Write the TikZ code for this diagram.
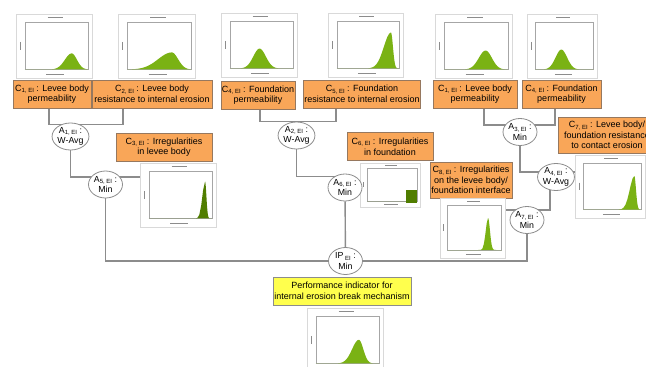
\documentclass[tikz,border=0pt]{standalone}
\usepackage{fontspec}
\setmainfont{Liberation Sans}
\usetikzlibrary{shapes.geometric, backgrounds}

\definecolor{critorange}{RGB}{249,166,88}
\definecolor{critborder}{RGB}{150,120,95}
\definecolor{indyellow}{RGB}{255,255,77}
\definecolor{linegray}{RGB}{140,140,140}
\definecolor{plotgreen}{RGB}{122,178,20}
\definecolor{darkgreen}{RGB}{80,125,0}

\newcommand{\sub}[1]{\raisebox{-0.3ex}{\fontsize{6}{6}\selectfont #1}}

% distribution thumbnail: name, centre, width, height, colour, mean, left spread, right spread, peak
\newcommand{\thumb}[9]{%
  \node[thumbbox, minimum width=#3, minimum height=#4] (#1) at #2 {};
  \begin{scope}[shift={(#1.north west)}, x=#3pt, y=-#4pt]
    \draw[axisline] (0.12,0.13) rectangle (0.95,0.87);
    \draw[labelline] (0.42,0.06) -- (0.62,0.06);
    \draw[labelline] (0.40,0.94) -- (0.64,0.94);
    \draw[labelline] (0.06,0.44) -- (0.06,0.56);
    \fill[#5] (0.12,0.87)
      -- plot[domain=0:#6, samples=30] ({0.12+0.83*\x}, {0.87-0.74*#9*exp(-((\x-#6)/#7)^2)})
      -- plot[domain=#6:1, samples=30] ({0.12+0.83*\x}, {0.87-0.74*#9*exp(-((\x-#6)/#8)^2)})
      -- (0.95,0.87) -- cycle;
  \end{scope}}

\tikzset{
  cbox/.style={draw=critborder, fill=critorange, align=center, inner sep=1pt,
    minimum height=28, font=\fontsize{9}{10.6}\selectfont},
  ipbox/.style={cbox, draw=linegray, fill=indyellow},
  agg/.style={ellipse, draw=linegray, fill=white, line width=0.8pt, align=center,
    inner sep=0pt, minimum width=34, minimum height=27, font=\fontsize{8.8}{10.5}\selectfont},
  thumbbox/.style={draw=black!15, fill=white, inner sep=0pt},
  axisline/.style={draw=black!35, line width=0.3pt},
  labelline/.style={draw=black!45, line width=0.6pt},
  link/.style={draw=linegray, line width=1.4pt},
}

\begin{document}
\begin{tikzpicture}[x=1pt, y=-1pt]
  \useasboundingbox (0,0) rectangle (646,367);

  % criteria plots, top row
  \thumb{T1}{(54,46)}{76}{64}{plotgreen}{0.74}{0.15}{0.12}{0.34}
  \thumb{T2}{(156.5,46)}{77}{64}{plotgreen}{0.70}{0.30}{0.14}{0.36}
  \thumb{T3}{(259,45)}{76}{64}{plotgreen}{0.47}{0.14}{0.14}{0.42}
  \thumb{T4}{(365.5,45)}{75}{64}{plotgreen}{0.87}{0.16}{0.045}{0.76}
  \thumb{T5}{(473.5,46)}{77}{64}{plotgreen}{0.65}{0.15}{0.14}{0.40}
  \thumb{T6}{(562,46)}{70}{64}{plotgreen}{0.45}{0.14}{0.14}{0.42}

  % criteria
  \node[cbox, minimum width=78] (C1a) at (52,94) {C\sub{1, EI} : Levee body\\permeability};
  \node[cbox, minimum width=120] (C2) at (152,94) {C\sub{2, EI} : Levee body\\resistance to internal erosion};
  \node[cbox, minimum width=74] (C4a) at (258,95) {C\sub{4, EI} : Foundation\\permeability};
  \node[cbox, minimum width=116] (C5) at (362,94) {C\sub{5, EI} : Foundation\\resistance to internal erosion};
  \node[cbox, minimum width=84] (C1b) at (475,94) {C\sub{1, EI} : Levee body\\permeability};
  \node[cbox, minimum width=79] (C4b) at (561.5,94) {C\sub{4, EI} : Foundation\\permeability};
  \node[cbox, minimum width=96] (C3) at (164,147) {C\sub{3, EI} : Irregularities\\in levee body};
  \node[cbox, minimum width=86] (C6) at (390,146.5) {C\sub{6, EI} : Irregularities\\in foundation};
  \node[cbox, minimum width=82, minimum height=36] (C8) at (471,180) {C\sub{8, EI} : Irregularities\\on the levee body/\\foundation interface};
  \node[cbox, minimum width=98, minimum height=36] (C7) at (607,135) {C\sub{7, EI} : Levee body/\\foundation resistance\\to contact erosion};

  % lower plots
  \thumb{T7}{(178,195)}{76}{64}{darkgreen}{0.89}{0.06}{0.03}{0.78}
  \thumb{T8}{(390,185)}{60}{44}{darkgreen}{0.5}{0.1}{0.1}{0}
  \fill[darkgreen] ([xshift=46pt, yshift=-27pt]T8.north west) rectangle ([xshift=-3pt, yshift=4pt]T8.south east);
  \thumb{T9}{(472.5,228)}{65}{60}{plotgreen}{0.75}{0.06}{0.05}{0.72}
  \thumb{T10}{(610,186.5)}{70}{63}{plotgreen}{0.88}{0.11}{0.04}{0.72}
  \thumb{T11}{(345,340)}{76}{64}{plotgreen}{0.68}{0.15}{0.10}{0.50}

  % aggregation nodes
  \node[agg] (A1) at (70.5,136.5) {A\sub{1, EI} :\\W-Avg};
  \node[agg] (A5) at (105.5,184.5) {A\sub{5, EI} :\\Min};
  \node[agg] (A2) at (296.5,135.5) {A\sub{2, EI} :\\W-Avg};
  \node[agg] (A6) at (345,187.5) {A\sub{6, EI} :\\Min};
  \node[agg] (A3) at (520,132) {A\sub{3, EI} :\\Min};
  \node[agg] (A4) at (556,177) {A\sub{4, EI} :\\W-Avg};
  \node[agg] (A7) at (527,220) {A\sub{7, EI} :\\Min};
  \node[agg] (IP) at (345.5,261) {IP\sub{ EI} :\\Min};

  \node[ipbox, minimum width=138] (perf) at (342,291) {Performance indicator for\\internal erosion break mechanism};

  \coordinate (j1) at ([yshift=-2pt]A1.north);
  \coordinate (j5) at ([yshift=7.5pt]A5.center);
  \coordinate (j2) at (A2.north);
  \coordinate (j6) at ([yshift=11pt]A6.center);
  \coordinate (j3) at ([yshift=7pt]A3.center);
  \coordinate (j4) at ([yshift=5pt]A4.center);
  \coordinate (j7) at ([yshift=10pt]A7.center);

  \begin{scope}[on background layer]
    \draw[link] ([xshift=-3pt]C1a.south) |- (j1) -| ([xshift=-29pt]C2.south);
    \draw[link] (A1) |- (j5) -- (j5 -| T7.west);
    \draw[link] ([xshift=2pt]C4a.south) |- (j2) -| ([xshift=-26pt]C5.south);
    \draw[link] (A2) |- (j6);
    \draw[link] (A6) -- (A6 -| T8.west);
    \draw[link] (A6) -- (IP);
    \draw[link] ([xshift=9pt]C1b.south) |- (j3) -| ([xshift=-6.5pt]C4b.south);
    \draw[link] (A3) |- (j4) -- (j4 -| T10.west);
    \draw[link] ([xshift=-6pt]A4.center) |- (j7) -- (j7 -| T9.east);
    \draw[link] (A5) |- (IP) -| (A7);
  \end{scope}
\end{tikzpicture}
\end{document}
